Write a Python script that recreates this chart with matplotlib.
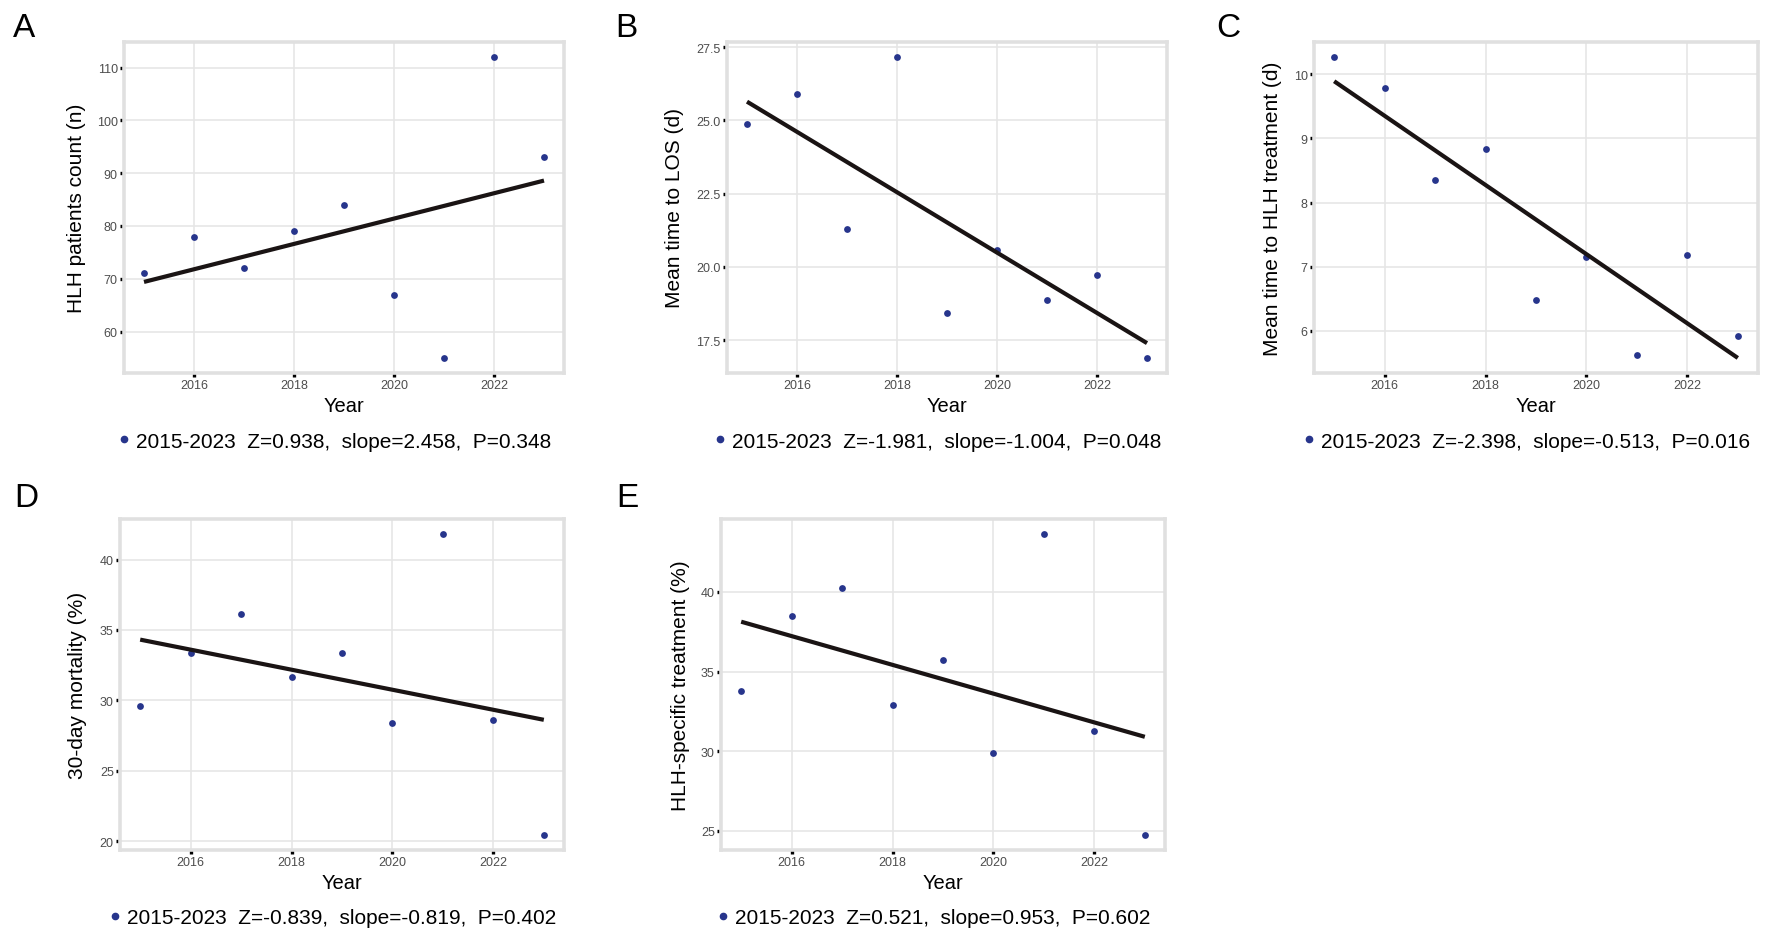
import numpy as np
import matplotlib
matplotlib.use("Agg")
import matplotlib.pyplot as plt
from matplotlib.lines import Line2D
from matplotlib.ticker import FormatStrFormatter

plt.rcParams['font.family'] = ['Liberation Sans', 'DejaVu Sans']

# data
years = [2015, 2016, 2017, 2018, 2019, 2020, 2021, 2022, 2023]
patients_n = [71, 78, 72, 79, 84, 67, 55, 112, 93]
los_days = [24.86, 25.89, 21.28, 27.16, 18.42, 20.56, 18.87, 19.72, 16.89]
time_to_treat = [10.27, 9.79, 8.36, 8.83, 6.48, 7.16, 5.63, 7.18, 5.92]
mortality_30d = [29.58, 33.33, 36.11, 31.65, 33.33, 28.36, 41.82, 28.57, 20.43]
hlh_treated = [33.80, 38.46, 40.28, 32.91, 35.71, 29.85, 43.64, 31.25, 24.73]

ylabels = ['HLH patients count (n)', 'Mean time to LOS (d)',
           'Mean time to HLH treatment (d)', '30-day mortality (%)',
           'HLH-specific treatment (%)']
yticks = [[60, 70, 80, 90, 100, 110], [17.5, 20.0, 22.5, 25.0, 27.5],
          [6, 7, 8, 9, 10], [20, 25, 30, 35, 40], [25, 30, 35, 40]]
stats = ['2015-2023  Z=0.938,  slope=2.458,  P=0.348',
         '2015-2023  Z=-1.981,  slope=-1.004,  P=0.048',
         '2015-2023  Z=-2.398,  slope=-0.513,  P=0.016',
         '2015-2023  Z=-0.839,  slope=-0.819,  P=0.402',
         '2015-2023  Z=0.521,  slope=0.953,  P=0.602']
letters = ['A', 'B', 'C', 'D', 'E']
series = [patients_n, los_days, time_to_treat, mortality_30d, hlh_treated]

W, H = 1772, 945
fig = plt.figure(figsize=(W / 100, H / 100), dpi=100)

# panel boxes in pixels: left, right, top, bottom
boxes = [(124, 564, 43, 374), (727, 1167, 43, 374), (1314, 1758, 43, 374),
         (120, 564, 520, 851), (721, 1165, 520, 851)]
ylab_x = [77, 675, 1273, 77, 680]
letter_pos = [(13, 37), (615, 37), (1216, 37), (14, 507), (616, 507)]

dot_c = '#27358c'
x = np.array(years)

for i in range(5):
    l, r, t, b = boxes[i]
    ax = fig.add_axes([l / W, 1 - b / H, (r - l) / W, (b - t) / H])
    y = np.array(series[i])
    ax.scatter(x, y, s=24, color=dot_c, zorder=3, linewidths=0)
    # linear trend line over the data range
    k, c0 = np.polyfit(x, y, 1)
    ax.plot(x[[0, -1]], k * x[[0, -1]] + c0, color='#1a1414', lw=3, zorder=4,
            solid_capstyle='butt')

    ax.set_xticks([2016, 2018, 2020, 2022])
    ax.set_yticks(yticks[i])
    if i == 1:
        ax.yaxis.set_major_formatter(FormatStrFormatter('%.1f'))
    ax.margins(0.05)
    ax.tick_params(labelsize=9, labelcolor='#4d4d4d', color='black',
                   length=3, width=2.4, pad=1.5)
    ax.grid(color='#e6e6e6', lw=1.2)
    ax.set_axisbelow(True)
    for sp in ax.spines.values():
        sp.set_color('#e0e0e0')
        sp.set_linewidth(2.6)

    hgt = b - t
    wid = r - l
    ax.set_xlabel('Year', fontsize=14.5, va='center')
    ax.xaxis.set_label_coords(0.5, -33 / hgt)
    ax.set_ylabel(ylabels[i], fontsize=15, va='center')
    ax.yaxis.set_label_coords((ylab_x[i] - l) / wid, 0.5)

    h = Line2D([], [], marker='o', ls='', color=dot_c, markersize=4.5)
    ax.legend([h], [stats[i]], loc='center', bbox_to_anchor=(0.48, -68 / hgt),
              frameon=False, fontsize=15, handlelength=0.5,
              handletextpad=0.3, borderpad=0, borderaxespad=0)

    lx, ly = letter_pos[i]
    fig.text(lx / W, 1 - ly / H, letters[i], fontsize=24, ha='left',
             va='baseline')

fig.savefig('out.png', dpi=100)
